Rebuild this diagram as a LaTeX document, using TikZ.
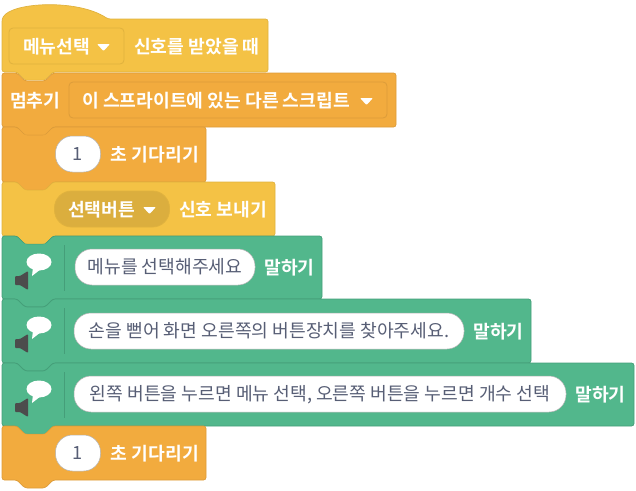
\documentclass[tikz,border=0pt]{standalone}
\usepackage{fontspec}
\setmainfont{Noto Sans CJK KR}[BoldFont={Noto Sans CJK KR Bold}]
\usetikzlibrary{positioning}
\definecolor{eventfill}{HTML}{F4C245}
\definecolor{eventline}{HTML}{E0B23E}
\definecolor{eventdark}{HTML}{DBAE3E}
\definecolor{controlfill}{HTML}{F2AB3E}
\definecolor{controlline}{HTML}{DC9C3A}
\definecolor{looksfill}{HTML}{52B78C}
\definecolor{looksline}{HTML}{459E79}
\definecolor{valuetext}{HTML}{575E75}
\tikzset{
  eventblock/.style={fill=eventfill, draw=eventline, line width=0.7pt},
  controlblock/.style={fill=controlfill, draw=controlline, line width=0.7pt},
  looksblock/.style={fill=looksfill, draw=looksline, line width=0.7pt},
  label/.style={text=white, font=\fontsize{18.2}{20}\selectfont\bfseries, inner sep=0pt, anchor=west, yshift=-1pt},
  squaremenu/.style={rounded corners=4pt, line width=0.8pt, minimum height=36pt, inner sep=0pt},
  roundinput/.style={fill=white, draw=black!30, line width=0.5pt, rounded corners=17pt, minimum height=36pt, inner sep=0pt, text=valuetext, text height=16pt, text depth=3pt, font=\fontsize{18.2}{20}\selectfont},
}
% style, top, bottom, right
\newcommand{\stackblock}[4]{
  \draw[#1, rounded corners=2.5pt] (2,#3) -- (2,#2) -- (17,#2) -- (25,#2+8) -- (45,#2+8) -- (53,#2) -- (#4,#2) -- (#4,#3) -- (53,#3) -- (45,#3+8) -- (25,#3+8) -- (17,#3) -- cycle;
}
% top of the block
\newcommand{\speakericon}[1]{
  \draw[looksline, line width=0.7pt] (64,#1+9) -- (64,#1+55);
  \fill[white] (39,#1+26) ellipse [x radius=12.5, y radius=8.5];
  \fill[white] (33,#1+31) -- (32,#1+40) -- (41,#1+33) -- cycle;
  \fill[black!70, rounded corners=1pt] (15,#1+40) -- (15,#1+49) -- (20,#1+49) -- (28,#1+54) -- (28,#1+35) -- (20,#1+40) -- cycle;
}
\begin{document}
\begin{tikzpicture}[x=1pt, y=-1pt]
  \useasboundingbox (0,0) rectangle (636,490);
  % hat block
  \draw[eventblock, rounded corners=2.5pt] (2,72) -- (2,19) .. controls (12,2) and (78,-1) .. (108,19) -- (268,19) -- (268,72) -- (53,72) -- (45,80) -- (25,80) -- (17,72) -- cycle;
  \stackblock{controlblock}{73}{127}{396}
  \stackblock{controlblock}{127}{182}{206}
  \stackblock{eventblock}{182}{236}{275}
  \stackblock{looksblock}{236}{299}{322}
  \stackblock{looksblock}{299}{363}{531}
  \stackblock{looksblock}{363}{426}{634}
  \stackblock{controlblock}{426}{480}{206}
  % tabs that lie on the next block
  \fill[eventfill] (18,72) -- (25.5,79.5) -- (44.5,79.5) -- (52,72) -- cycle;
  \fill[controlfill] (18,127) -- (25.5,134.5) -- (44.5,134.5) -- (52,127) -- cycle;
  \fill[controlfill] (18,182) -- (25.5,189.5) -- (44.5,189.5) -- (52,182) -- cycle;
  \fill[eventfill] (18,236) -- (25.5,243.5) -- (44.5,243.5) -- (52,236) -- cycle;
  \fill[looksfill] (18,426) -- (25.5,433.5) -- (44.5,433.5) -- (52,426) -- cycle;

  % hat
  \node[squaremenu, draw=eventline, fill=eventfill, minimum width=115pt] (menubox) at (66.5,46) {};
  \node[label] (menutext) at (23,46) {메뉴선택};
  \fill[white, rounded corners=1pt] (97,44) -- (110,44) -- (103.5,51) -- cycle;
  \node[label] (whenlabel) at (134,46) {신호를 받았을 때};

  % stop
  \node[label] (stoplabel) at (10,100) {멈추기};
  \node[squaremenu, draw=controlline, fill=controlfill, minimum width=318pt] (stopbox) at (228,100) {};
  \node[label] (stoptext) at (82,100) {이 스프라이트에 있는 다른 스크립트};
  \fill[white, rounded corners=1pt] (360,98) -- (373,98) -- (366.5,105) -- cycle;

  % wait
  \node[roundinput, minimum width=45pt] (waitone) at (78,154) {1};
  \node[label, right=10pt of waitone] (waitlabel) {초 기다리기};

  % broadcast
  \node[fill=eventdark, draw=eventline, line width=0.8pt, rounded corners=17pt, minimum height=36pt, minimum width=115pt, inner sep=0pt] (sendbox) at (112,209) {};
  \node[label] (sendtext) at (68,209) {선택버튼};
  \fill[white, rounded corners=1pt] (143,207) -- (156,207) -- (149.5,214) -- cycle;
  \node[label] (sendlabel) at (179,209) {신호 보내기};

  % say blocks
  \speakericon{236}
  \node[roundinput, minimum width=180pt] (sayone) at (165,267) {메뉴를 선택해주세요};
  \node[label, right=9pt of sayone] (sayonelabel) {말하기};
  \speakericon{299}
  \node[roundinput, minimum width=390pt] (saytwo) at (269,331) {손을 뻗어 화면 오른쪽의 버튼장치를 찾아주세요.};
  \node[label, right=9pt of saytwo] (saytwolabel) {말하기};
  \speakericon{363}
  \node[roundinput, minimum width=492pt] (saythree) at (320,394) {왼쪽 버튼을 누르면 메뉴 선택, 오른쪽 버튼을 누르면 개수 선택};
  \node[label, right=9pt of saythree] (saythreelabel) {말하기};

  % last wait
  \node[roundinput, minimum width=45pt] (waittwo) at (78,453) {1};
  \node[label, right=10pt of waittwo] (waittwolabel) {초 기다리기};
\end{tikzpicture}
\end{document}
